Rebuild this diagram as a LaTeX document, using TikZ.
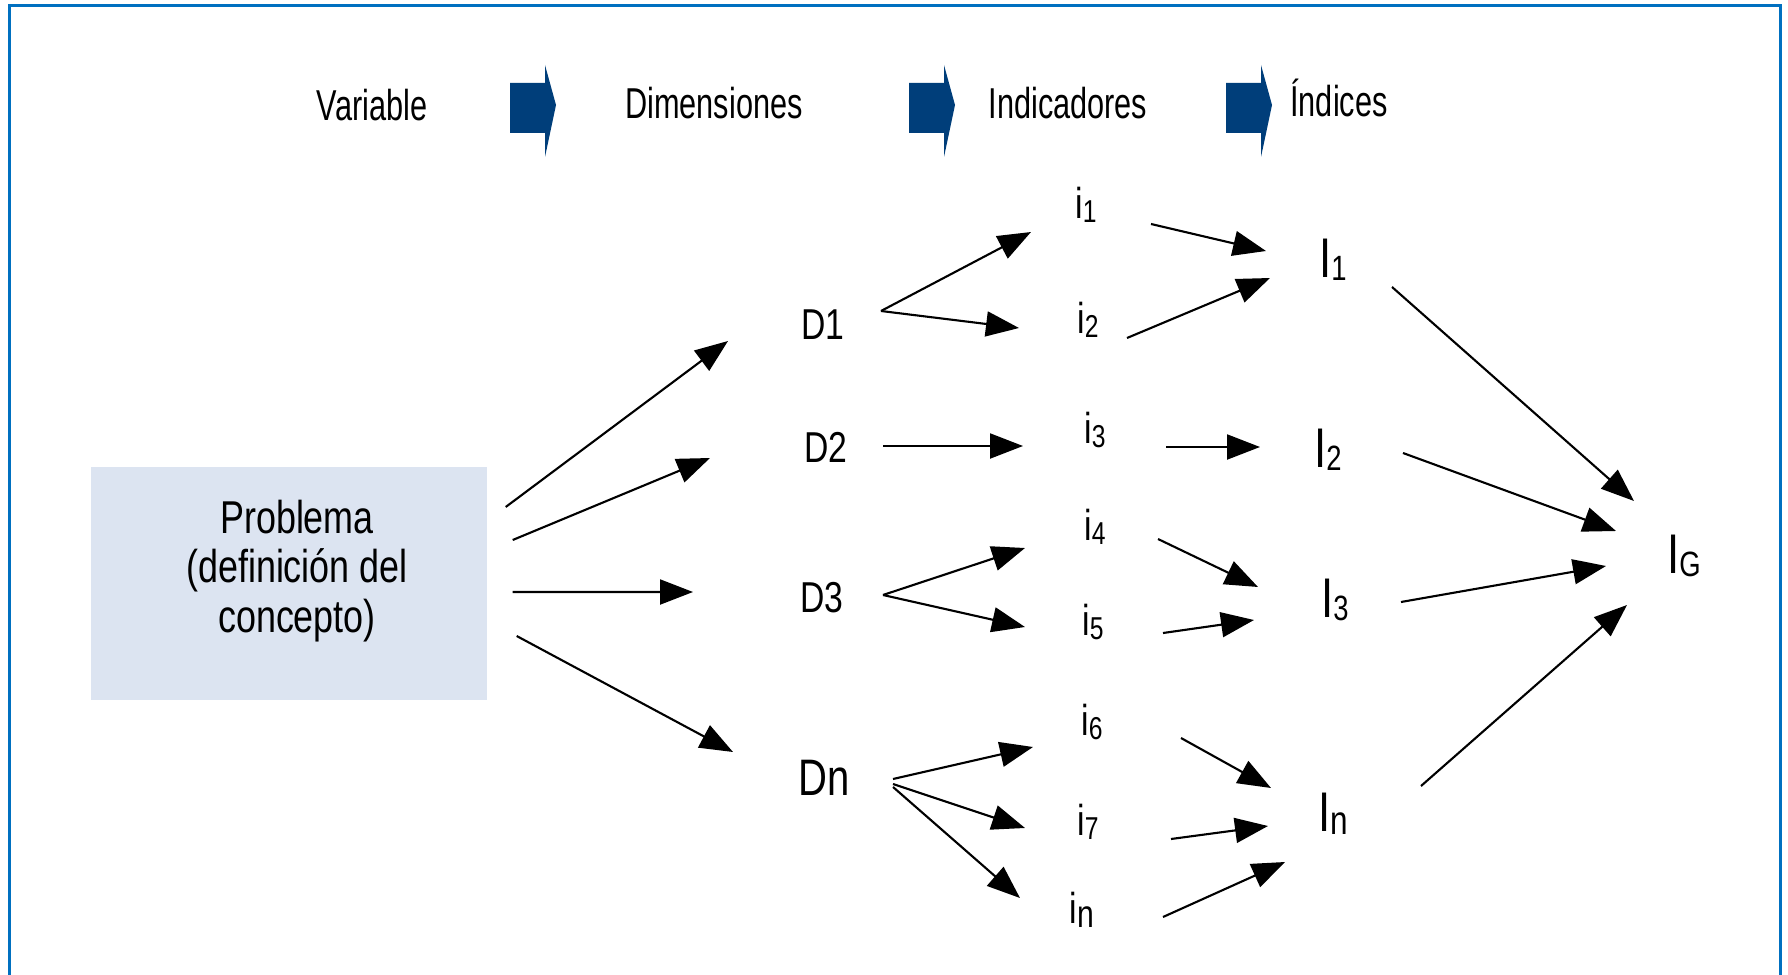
\documentclass[tikz,border=0pt]{standalone}
\usepackage{fontspec}
\setmainfont{Liberation Sans}[FakeStretch=0.78]
\newfontfamily\hdrfont{Liberation Sans}[FakeStretch=0.71]
\usetikzlibrary{arrows.meta, calc}
\definecolor{cFrame}{RGB}{0,112,192}
\definecolor{cNavy}{RGB}{0,62,122}
\definecolor{cBox}{RGB}{220,228,241}
\newcommand{\ilab}[2][9]{i\raisebox{-0.4mm}{\fontsize{#1}{#1}\selectfont #2}}
\newcommand{\Ilab}[2][10]{I\raisebox{-0.3mm}{\fontsize{#1}{#1}\selectfont #2}}
\tikzset{
	flow/.style ={-{Triangle[length=3.3mm, width=2.5mm]}, line width=0.6pt},
	hdr/.style  ={anchor=base, inner sep=0pt, font=\hdrfont\fontsize{12.3}{14}\selectfont},
	dim/.style  ={anchor=base, inner sep=0pt, font=\fontsize{12.3}{14}\selectfont},
	ind/.style  ={anchor=base, inner sep=0pt, font=\fontsize{12.3}{14}\selectfont},
	idx/.style  ={anchor=base, inner sep=0pt, font=\fontsize{15.9}{18}\selectfont},
}
\begin{document}
\begin{tikzpicture}[x=0.1mm, y=-0.1mm]
	\useasboundingbox (0,0) rectangle (1788,975);
	% frame, open at the bottom
	\draw[cFrame, line width=0.3mm] (9,975) -- (9,6) -- (1780,6) -- (1780,975);
	% header row
	\node[hdr] (hVar) at (372,121) {Variable};
	\node[hdr] (hDim) at (714,119) {Dimensiones};
	\node[hdr] (hInd) at (1068,119) {Indicadores};
	\node[hdr] (hIdx) at (1339,117) {Índices};
	\foreach \x in {510,909,1226}
		\fill[cNavy] (\x,83) -- ++(35,0) -- ++(0,-18) -- ++(11,40) -- ++(-11,52) -- ++(0,-24) -- ++(-35,0) -- cycle;
	% problem box
	\node[fill=cBox, minimum width=39.6mm, minimum height=23.3mm, inner sep=0pt] (prob) at (289,583.5) {};
	\node[align=center, inner sep=0pt, font=\fontsize{13.1}{14.2}\selectfont] (probTxt) at (297,571) {Problema\\(definición del\\concepto)};
	% dimensions
	\node[dim] (D1) at (823,339) {D1};
	\node[dim] (D2) at (826,462) {D2};
	\node[dim] (D3) at (822,612) {D3};
	\node[dim, font=\fontsize{14.6}{16}\selectfont] (Dn) at (824,795) {Dn};
	% indicators
	\node[ind] (i1) at (1086,218) {\ilab{1}};
	\node[ind] (i2) at (1088,333) {\ilab{2}};
	\node[ind] (i3) at (1095,443) {\ilab{3}};
	\node[ind] (i4) at (1095,540) {\ilab{4}};
	\node[ind] (i5) at (1093,635) {\ilab{5}};
	\node[ind] (i6) at (1092,735) {\ilab{6}};
	\node[ind] (i7) at (1088,835) {\ilab{7}};
	\node[ind] (in) at (1082,923) {\ilab[11]{n}};
	% indices
	\node[idx] (I1) at (1333,277) {\Ilab{1}};
	\node[idx] (I2) at (1328,467) {\Ilab{2}};
	\node[idx] (I3) at (1335,617) {\Ilab{3}};
	\node[idx] (In) at (1333,831) {\Ilab[11.5]{n}};
	\node[idx] (IG) at (1684,573) {\Ilab{G}};
	% problem -> dimensions
	\draw[flow] ($(prob.east)+(18,-76.5)$) -- ($(D1.base)+(-95,2)$);
	\draw[flow] ($(prob.east)+(25,-43.5)$) -- ($(D2.base)+(-116,-4)$);
	\draw[flow] ($(prob.east)+(25,8.5)$) -- ($(D3.base)+(-129,-20)$);
	\draw[flow] ($(prob.east)+(29,52.5)$) -- ($(Dn.base)+(-91,-43)$);
	% dimensions -> indicators
	\draw[flow] ($(D1.base)+(58,-28)$) -- ($(i1.base)+(-55,14)$);
	\draw[flow] ($(D1.base)+(58,-28)$) -- ($(i2.base)+(-69,-5)$);
	\draw[flow] ($(D2.base)+(57,-16)$) -- ($(i3.base)+(-72,3)$);
	\draw[flow] ($(D3.base)+(61,-17)$) -- ($(i4.base)+(-70,8)$);
	\draw[flow] ($(D3.base)+(61,-17)$) -- ($(i5.base)+(-68,-8)$);
	\draw[flow] ($(Dn.base)+(69,-16)$) -- ($(i6.base)+(-59,12)$);
	\draw[flow] ($(Dn.base)+(69,-11)$) -- ($(i7.base)+(-63,-7)$);
	\draw[flow] ($(Dn.base)+(69,-8)$) -- ($(in.base)+(-62,-25)$);
	% indicators -> indices
	\draw[flow] ($(i1.base)+(65,6)$) -- ($(I1.base)+(-67,-26)$);
	\draw[flow] ($(i2.base)+(39,5)$) -- ($(I1.base)+(-63,1)$);
	\draw[flow] ($(i3.base)+(71,4)$) -- ($(I2.base)+(-68,-20)$);
	\draw[flow] ($(i4.base)+(63,-1)$) -- ($(I3.base)+(-77,-30)$);
	\draw[flow] ($(i5.base)+(70,-2)$) -- ($(I3.base)+(-81,3)$);
	\draw[flow] ($(i6.base)+(89,3)$) -- ($(In.base)+(-62,-43)$);
	\draw[flow] ($(i7.base)+(83,4)$) -- ($(In.base)+(-65,-5)$);
	\draw[flow] ($(in.base)+(81,-6)$) -- ($(In.base)+(-48,31)$);
	% indices -> global index
	\draw[flow] ($(I1.base)+(59,10)$) -- ($(IG.base)+(-50,-72)$);
	\draw[flow] ($(I2.base)+(75,-14)$) -- ($(IG.base)+(-68,-42)$);
	\draw[flow] ($(I3.base)+(66,-15)$) -- ($(IG.base)+(-78,-7)$);
	\draw[flow] ($(In.base)+(88,-45)$) -- ($(IG.base)+(-57,32)$);
\end{tikzpicture}
\end{document}
